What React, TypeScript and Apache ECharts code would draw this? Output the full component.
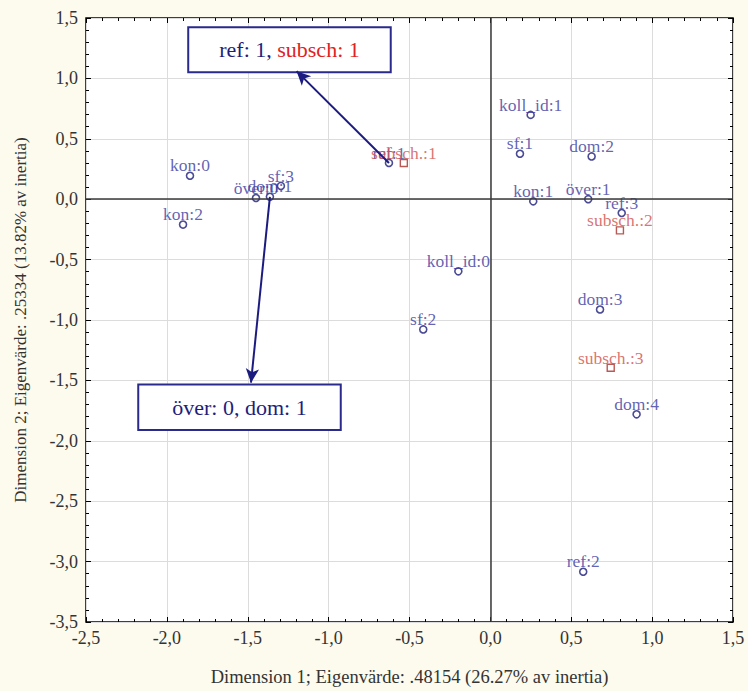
import React, { useEffect, useRef } from "react";
import * as echarts from "echarts";

// Blue (circle) category points
const blueNames = ["kon:0", "kon:2", "över:0", "dom:1", "sf:3", "ref:1", "koll_id:1", "sf:1", "dom:2", "kon:1", "över:1", "ref:3", "koll_id:0", "sf:2", "dom:3", "dom:4", "ref:2"];
const blueX = [-1.857, -1.9, -1.449, -1.363, -1.295, -0.627, 0.249, 0.183, 0.626, 0.265, 0.605, 0.812, -0.198, -0.415, 0.678, 0.904, 0.574];
const blueY = [0.194, -0.21, 0.01, 0.02, 0.11, 0.3, 0.698, 0.376, 0.354, -0.018, 0.0, -0.114, -0.597, -1.078, -0.913, -1.781, -3.084];

// Red (square) category points
const redNames = ["subsch.:1", "subsch.:2", "subsch.:3"];
const redX = [-0.535, 0.801, 0.744];
const redY = [0.3, -0.258, -1.395];

// Axis ranges / ticks
const xMin = -2.5, xMax = 1.5, yMin = -3.5, yMax = 1.5, step = 0.5;
const xTitle = "Dimension 1; Eigenvärde: .48154 (26.27% av inertia)";
const yTitle = "Dimension 2; Eigenvärde: .25334 (13.82% av inertia)";

// Annotation boxes (data coordinates) and arrows
const box1 = { from: [-1.868, 1.423], to: [-0.616, 1.051] };
const box2 = { from: [-2.177, -1.533], to: [-0.925, -1.911] };
const arrow1 = { from: [-0.627, 0.3], to: [-1.198, 1.06] };
const arrow2 = { from: [-1.363, 0.02], to: [-1.48, -1.519] };

const FONT = "'Liberation Serif', 'Times New Roman', serif";
const NAVY = "#1e1e7a";

const fmt = (v: number) => v.toFixed(1).replace(".", ",");

export default function App() {
  const ref = useRef<HTMLDivElement>(null);
  useEffect(() => {
    if (!ref.current) return;
    const chart = echarts.init(ref.current, undefined, { renderer: "svg" });
    const tickCommon = {
      axisLine: { show: false },
      axisTick: { show: true, inside: true, length: 5, lineStyle: { color: "#000", width: 1 } },
      minorTick: { show: true, splitNumber: 5, length: 3, lineStyle: { color: "#000", width: 1 } },
    };
    chart.setOption({
      animation: false,
      backgroundColor: "#fdfbee",
      grid: {
        left: 86, right: 15, top: 18, bottom: 69,
        show: true, backgroundColor: "#ffffff", borderColor: "#000", borderWidth: 1.5,
      },
      xAxis: [
        {
          type: "value", min: xMin, max: xMax, interval: step,
          ...tickCommon,
          axisLine: { show: false, onZero: false },
          axisLabel: { formatter: fmt, fontFamily: FONT, fontSize: 18, color: "#333", margin: 7 },
          splitLine: { show: true, lineStyle: { color: "#dcdcdc", width: 1 } },
          name: xTitle, nameLocation: "middle", nameGap: 45,
          nameTextStyle: { fontFamily: FONT, fontSize: 18.5, color: "#333" },
        },
        {
          type: "value", min: xMin, max: xMax, interval: step, position: "top",
          ...tickCommon,
          axisLine: { show: false, onZero: false },
          axisLabel: { show: false }, splitLine: { show: false },
        },
      ],
      yAxis: [
        {
          type: "value", min: yMin, max: yMax, interval: step,
          ...tickCommon,
          axisLine: { show: false, onZero: false },
          axisLabel: { formatter: fmt, fontFamily: FONT, fontSize: 18, color: "#333", margin: 8 },
          splitLine: { show: true, lineStyle: { color: "#dcdcdc", width: 1 } },
          name: yTitle, nameLocation: "middle", nameGap: 57,
          nameTextStyle: { fontFamily: FONT, fontSize: 17, color: "#333" },
        },
        {
          type: "value", min: yMin, max: yMax, interval: step, position: "right",
          ...tickCommon,
          axisLine: { show: false, onZero: false },
          axisLabel: { show: false }, splitLine: { show: false },
        },
      ],
      series: [
        {
          type: "scatter",
          name: "zero",
          data: [],
          silent: true,
          markLine: {
            silent: true, symbol: "none", label: { show: false },
            lineStyle: { color: "#3a3a3a", width: 1.5, type: "solid" },
            data: [{ xAxis: 0 }, { yAxis: 0 }],
          },
          markArea: {
            silent: true,
            itemStyle: { color: "#ffffff", borderColor: "#2a2a8c", borderWidth: 2 },
            label: {
              show: true, position: "inside", fontFamily: FONT, fontSize: 22,
              rich: {
                a: { fontFamily: FONT, fontSize: 22, color: NAVY },
                b: { fontFamily: FONT, fontSize: 22, color: "#e02222" },
              },
            },
            data: [
              [
                { coord: box1.from, label: { formatter: "{a|ref: 1, }{b|subsch: 1}" } },
                { coord: box1.to },
              ],
              [
                { coord: box2.from, label: { formatter: "{a|över: 0, dom: 1}" } },
                { coord: box2.to },
              ],
            ],
          },
          z: 1,
        },
        {
          type: "scatter",
          name: "blue",
          symbol: "circle",
          symbolSize: 7,
          itemStyle: { color: "#ffffff", borderColor: NAVY, borderWidth: 1.6 },
          label: {
            show: true, position: "top", distance: -3,
            formatter: (p: any) => p.name,
            fontFamily: FONT, fontSize: 17.5, color: "#3a3a9e",
          },
          data: blueNames.map((n, i) => ({ name: n, value: [blueX[i], blueY[i]] })),
          z: 3,
        },
        {
          type: "scatter",
          name: "red",
          symbol: "rect",
          symbolSize: 7,
          itemStyle: { color: "#ffffff", borderColor: "#a8302a", borderWidth: 1.4 },
          label: {
            show: true, position: "top", distance: -3,
            formatter: (p: any) => p.name,
            fontFamily: FONT, fontSize: 17.5, color: "#d0504a",
          },
          data: redNames.map((n, i) => ({ name: n, value: [redX[i], redY[i]] })),
          z: 3,
        },
        {
          type: "scatter",
          name: "arrows",
          data: [],
          silent: true,
          markLine: {
            silent: true,
            symbol: ["none", "arrow"],
            symbolSize: [10, 14],
            label: { show: false },
            lineStyle: { color: "#1c1c80", width: 2, type: "solid" },
            data: [
              [{ coord: arrow1.from }, { coord: arrow1.to }],
              [{ coord: arrow2.from }, { coord: arrow2.to }],
            ],
          },
          z: 4,
        },
      ],
    });
    return () => chart.dispose();
  }, []);
  return <div ref={ref} style={{ width: 748, height: 691, position: "absolute", left: 0, top: 0 }} />;
}
